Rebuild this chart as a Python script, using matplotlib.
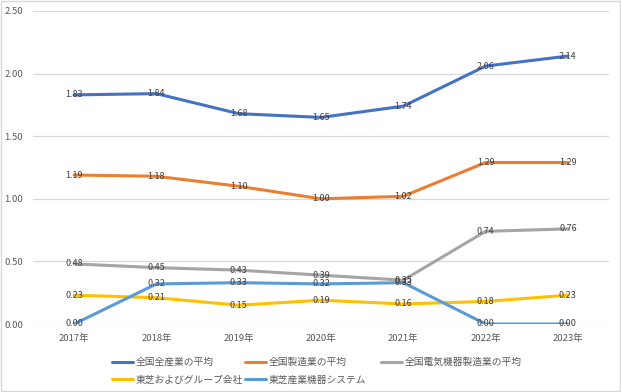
import matplotlib
matplotlib.use("Agg")
import matplotlib.pyplot as plt
from matplotlib.patches import Rectangle

plt.rcParams['font.family'] = ['Noto Sans CJK JP', 'DejaVu Sans']

years = ["2017年", "2018年", "2019年", "2020年", "2021年", "2022年", "2023年"]
names = ["全国全産業の平均", "全国製造業の平均", "全国電気機器製造業の平均",
         "東芝およびグループ会社", "東芝産業機器システム"]
all_ind = [1.83, 1.84, 1.68, 1.65, 1.74, 2.06, 2.14]
manuf = [1.19, 1.18, 1.10, 1.00, 1.02, 1.29, 1.29]
elec = [0.48, 0.45, 0.43, 0.39, 0.35, 0.74, 0.76]
toshiba = [0.23, 0.21, 0.15, 0.19, 0.16, 0.18, 0.23]
tis = [0.00, 0.32, 0.33, 0.32, 0.33, 0.00, 0.00]
series = [all_ind, manuf, elec, toshiba, tis]
colors = ["#4472C4", "#ED7D31", "#A5A5A5", "#FFC000", "#5B9BD5"]

fig = plt.figure(figsize=(6.21, 3.92), dpi=100)
ax = fig.add_axes([33/621, 1-324/392, 576/621, 313/392])

x = list(range(len(years)))
handles = []
for vals, c, n in zip(series, colors, names):
    h, = ax.plot(x, vals, color=c, lw=2.2, label=n, solid_capstyle='round', zorder=3)
    handles.append(h)
    for xi, v in zip(x, vals):
        ax.text(xi, v, f"{v:.2f}", ha='center', va='center', fontsize=6.5,
                color='#404040', zorder=4)

ax.set_xlim(-0.5, 6.5)
ax.set_ylim(0, 2.5)
ax.set_yticks([0, 0.5, 1.0, 1.5, 2.0, 2.5])
ax.set_yticklabels([f"{v:.2f}" for v in [0, 0.5, 1.0, 1.5, 2.0, 2.5]])
ax.set_xticks(x)
ax.set_xticklabels(years)
ax.tick_params(axis='both', length=0, labelsize=6.8, colors='#595959')
ax.tick_params(axis='y', pad=7)
ax.tick_params(axis='x', pad=7)
ax.grid(axis='y', color='#D9D9D9', lw=0.9)
ax.set_axisbelow(True)
for s in ax.spines.values():
    s.set_visible(False)

cols = [([0, 3], 112), ([1, 4], 245), ([2], 381)]
for idx, xpx in cols:
    leg = fig.legend([handles[i] for i in idx], [names[i] for i in idx],
                     loc='upper left', bbox_to_anchor=(xpx/621, 1-357/392),
                     frameon=False, fontsize=7, handlelength=2.2, handletextpad=0.25,
                     labelspacing=0.8, borderaxespad=0, borderpad=0)
    for t in leg.get_texts():
        t.set_color('#595959')

fig.patches.append(Rectangle((0.002, 0.003), 0.996, 0.994, transform=fig.transFigure,
                             fill=False, edgecolor='#D9D9D9', lw=1.0))

fig.savefig("out.png", dpi=100)
